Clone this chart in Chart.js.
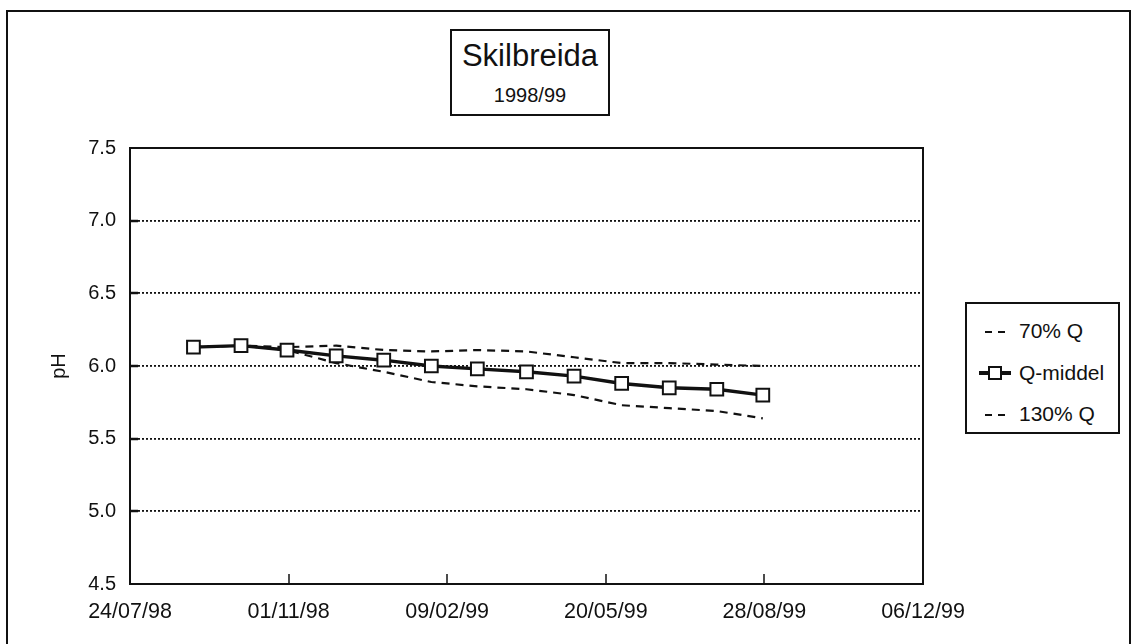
<!DOCTYPE html>
<html><head><meta charset="utf-8">
<script src="https://cdn.jsdelivr.net/npm/chart.js@4.4.1/dist/chart.umd.min.js"></script>
<style>
html,body{margin:0;padding:0;background:#fff;}
#wrap{position:relative;width:1140px;height:644px;overflow:hidden;font-family:"Liberation Sans",Arial,sans-serif;color:#111;}
#c{position:absolute;left:0;top:0;}
#frame{position:absolute;left:6px;top:10px;width:1125px;height:700px;border:2px solid #111;box-sizing:border-box;}
#title{position:absolute;left:450px;top:29px;width:160px;height:87px;border:2px solid #111;box-sizing:border-box;text-align:center;background:#fff;}
#title .t1{position:absolute;left:0;right:0;top:8px;font-size:31px;line-height:34px;}
#title .t2{position:absolute;left:0;right:0;top:52px;font-size:20px;line-height:24px;}
#legend{position:absolute;left:965px;top:302px;width:155px;height:132px;border:2px solid #111;box-sizing:border-box;background:#fff;}
.li{position:absolute;left:0;height:26px;width:150px;}
.li svg{position:absolute;left:10px;top:0;}
.li span{position:absolute;left:52px;top:0;font-size:21px;line-height:26px;white-space:nowrap;}
</style></head>
<body>
<div id="wrap">
<canvas id="c" width="1140" height="644"></canvas>
<div id="frame"></div>
<div id="title"><div class="t1">Skilbreida</div><div class="t2">1998/99</div></div>
<div id="legend"></div>
</div>
<script>
// ---- data ----
const dates = ['1998-09-02','1998-10-02','1998-10-31','1998-12-01','1998-12-31','1999-01-30','1999-02-28','1999-03-31','1999-04-30','1999-05-30','1999-06-29','1999-07-29','1999-08-27'];
const q70 = [6.13,6.14,6.13,6.14,6.11,6.10,6.11,6.10,6.06,6.02,6.02,6.01,6.00];
const qMiddel = [6.13,6.14,6.11,6.07,6.04,6.00,5.98,5.96,5.93,5.88,5.85,5.84,5.80];
const q130 = [6.13,6.14,6.11,6.02,5.96,5.89,5.86,5.84,5.80,5.73,5.71,5.69,5.64];
const seriesNames = ['70% Q','Q-middel','130% Q'];
const xTickDates = ['1998-07-24','1998-11-01','1999-02-09','1999-05-20','1999-08-28','1999-12-06'];
const yTicks = [4.5,5.0,5.5,6.0,6.5,7.0,7.5];
const yTitle = 'pH';

function dayOf(s){const p=s.split('-').map(Number);return Date.UTC(p[0],p[1]-1,p[2])/86400000;}
function fmt(day){const d=new Date(day*86400000);const dd=String(d.getUTCDate()).padStart(2,'0');const mm=String(d.getUTCMonth()+1).padStart(2,'0');const yy=String(d.getUTCFullYear()).slice(2);return dd+'/'+mm+'/'+yy;}
const pts = arr => dates.map((d,i)=>({x:dayOf(d),y:arr[i]}));

const FONT = '"Liberation Sans", Arial, sans-serif';
const INK = '#111';

const frameTicks = {
  id:'frameTicks',
  afterDatasetsDraw(chart){
    const {ctx, chartArea:a, scales:{x,y}} = chart;
    ctx.save();
    ctx.strokeStyle = INK;
    ctx.lineWidth = 2;
    ctx.setLineDash([]);
    ctx.strokeRect(a.left, a.top, a.right-a.left, a.bottom-a.top);
    ctx.lineWidth = 2.5;
    y.ticks.forEach(t=>{
      if (t.value<=y.min || t.value>=y.max) return;
      const py = Math.round(y.getPixelForValue(t.value));
      ctx.beginPath(); ctx.moveTo(a.left, py); ctx.lineTo(a.left+8, py); ctx.stroke();
    });
    ctx.lineWidth = 1.5;
    x.ticks.forEach(t=>{
      if (t.value<=x.min || t.value>=x.max) return;
      const px = Math.round(x.getPixelForValue(t.value));
      ctx.beginPath(); ctx.moveTo(px, a.bottom); ctx.lineTo(px, a.bottom-10); ctx.stroke();
    });
    ctx.restore();
  }
};

const datasets = [
  {label:seriesNames[0], data:pts(q70), borderColor:INK, borderWidth:2.2, borderDash:[8,6], pointRadius:0, tension:0, order:1},
  {label:seriesNames[1], data:pts(qMiddel), borderColor:INK, borderWidth:3.4, pointStyle:'rect', pointRadius:9, pointBackgroundColor:'#fff', pointBorderColor:INK, pointBorderWidth:2, tension:0, order:0},
  {label:seriesNames[2], data:pts(q130), borderColor:INK, borderWidth:2.2, borderDash:[8,6], pointRadius:0, tension:0, order:1}
];

new Chart(document.getElementById('c'), {
  type:'line',
  data:{datasets},
  options:{
    responsive:false, animation:false, devicePixelRatio:1,
    layout:{padding:{top:148,right:217,left:0,bottom:0}},
    plugins:{legend:{display:false}, tooltip:{enabled:false}, title:{display:false}},
    scales:{
      x:{
        type:'linear',
        min:dayOf(xTickDates[0]), max:dayOf(xTickDates[xTickDates.length-1]),
        afterBuildTicks(s){ s.ticks = xTickDates.map(d=>({value:dayOf(d)})); },
        afterFit(s){ s.height = 60; },
        grid:{display:false, drawTicks:false},
        border:{display:false},
        ticks:{autoSkip:false, maxRotation:0, padding:15, color:INK, font:{family:FONT, size:21.5}, callback:v=>fmt(v)}
      },
      y:{
        min:yTicks[0], max:yTicks[yTicks.length-1],
        afterBuildTicks(s){ s.ticks = yTicks.map(v=>({value:v})); },
        afterFit(s){ s.width = 130; },
        grid:{drawTicks:false, lineWidth:1.8, color:ctx=>{const v=ctx.tick&&ctx.tick.value; return (v===yTicks[0]||v===yTicks[yTicks.length-1])?'rgba(0,0,0,0)':'#111';}},
        border:{display:false, dash:[2,2]},
        ticks:{padding:14, color:INK, font:{family:FONT, size:20}, callback:v=>Number(v).toFixed(1)},
        title:{display:true, text:yTitle, color:INK, font:{family:FONT, size:20, lineHeight:1}, padding:{top:49,bottom:0}}
      }
    }
  },
  plugins:[frameTicks]
});

// HTML legend built from the datasets
const lg = document.getElementById('legend');
const rowTops = [14, 56, 97];
datasets.forEach((ds,i)=>{
  const row = document.createElement('div');
  row.className='li'; row.style.top = rowTops[i]+'px';
  let svg;
  if (ds.pointStyle==='rect'){
    svg = '<svg width="34" height="26"><line x1="2" y1="13" x2="34" y2="13" stroke="#111" stroke-width="4"/><rect x="12" y="7" width="12" height="12" fill="#fff" stroke="#111" stroke-width="2"/></svg>';
  } else {
    svg = '<svg width="34" height="26"><line x1="8" y1="14" x2="34" y2="14" stroke="#111" stroke-width="2" stroke-dasharray="7,6"/></svg>';
  }
  row.innerHTML = svg + '<span>'+ds.label+'</span>';
  lg.appendChild(row);
});
</script>
</body></html>
